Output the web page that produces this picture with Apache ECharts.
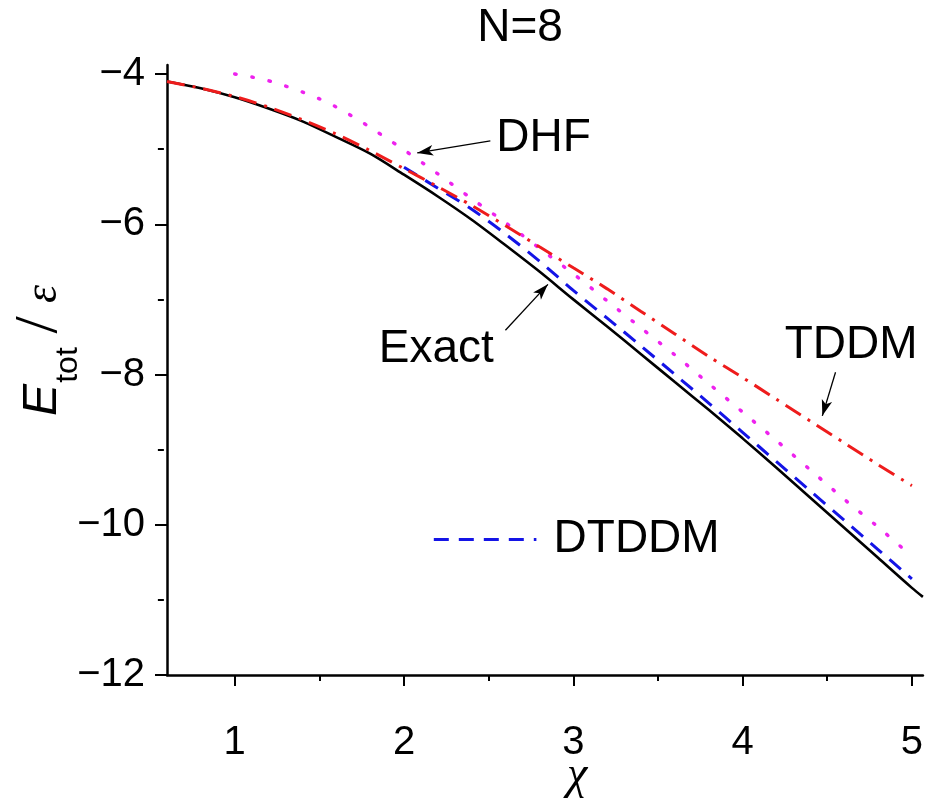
<!DOCTYPE html>
<html><head><meta charset="utf-8">
<script src="https://cdn.jsdelivr.net/npm/echarts@6/dist/echarts.min.js"></script>
<style>html,body{margin:0;padding:0;background:#fff}#c{width:926px;height:799px}</style>
</head><body><div id="c"></div>
<script>
// ---- data ----
const exactChi = [0.6,0.8,1.0,1.2,1.4,1.6,1.8,2.0,2.2,2.4,2.6,2.8,3.0,3.2,3.4,3.6,3.8,4.0,4.2,4.4,4.6,4.8,5.0,5.065];
const exactE   = [-4.10,-4.19,-4.31,-4.46,-4.63,-4.84,-5.06,-5.34,-5.63,-5.94,-6.28,-6.63,-7.00,-7.36,-7.73,-8.10,-8.47,-8.85,-9.24,-9.64,-10.04,-10.44,-10.84,-10.96];

const tddmChi = [0.6,0.8,1.0,1.2,1.4,1.6,1.8,2.0,2.2,2.4,2.6,2.8,3.0,3.2,3.4,3.6,3.8,4.0,4.2,4.4,4.6,4.8,5.0];
const tddmE   = [-4.10,-4.19,-4.30,-4.44,-4.61,-4.80,-5.02,-5.26,-5.50,-5.75,-6.02,-6.30,-6.58,-6.86,-7.16,-7.46,-7.76,-8.04,-8.33,-8.62,-8.91,-9.20,-9.48];

const dhfChi = [1.0,1.1,1.2,1.3,1.4,1.5,1.6,1.7,1.8,1.9,2.0,2.2,2.4,2.6,2.8,3.0,3.2,3.4,3.6,3.8,4.0,4.2,4.4,4.6,4.8,5.0];
const dhfE   = [-4.00,-4.04,-4.09,-4.16,-4.24,-4.33,-4.44,-4.57,-4.71,-4.86,-5.01,-5.33,-5.66,-5.98,-6.32,-6.66,-7.02,-7.38,-7.74,-8.12,-8.50,-8.88,-9.27,-9.66,-10.03,-10.42];

const dtddmChi = [2.0,2.2,2.4,2.6,2.8,3.0,3.2,3.4,3.6,3.8,4.0,4.2,4.4,4.6,4.8,5.0];
const dtddmE   = [-5.24,-5.52,-5.80,-6.13,-6.49,-6.88,-7.25,-7.62,-8.00,-8.38,-8.77,-9.16,-9.55,-9.94,-10.33,-10.72];

const xTicks = [1,2,3,4,5];
const xMinorTicks = [1.5,2.5,3.5,4.5];
const yTicks = [-12,-10,-8,-6,-4];
const yMinorTicks = [-11,-9,-7,-5];

// annotation labels (data coordinates)
const annoText = ['DHF','Exact','TDDM','DTDDM'];
const annoChi  = [2.824, 2.191, 4.641, 3.374];
const annoE    = [-4.86, -7.67, -7.61, -10.19];
// annotation arrows: from -> to (data coordinates)
const arrowFromChi = [2.51, 2.599, 4.549];
const arrowFromE   = [-4.89, -7.41, -7.97];
const arrowToChi   = [2.078, 2.85, 4.471];
const arrowToE     = [-5.05, -6.80, -8.55];
// legend sample segment for DTDDM
const sampleChi = [2.176, 2.782];
const sampleE   = [-10.19, -10.19];

const zip = (a, b) => a.map((v, i) => [v, b[i]]);
const minusFmt = v => String(v).replace('-', '\u2212');

const X_MIN = 0.6, X_MAX = 5.065, Y_MIN = -12, Y_MAX = -3.88;
const GRID = {left: 167, top: 65, width: 759, height: 610};

const chart = echarts.init(document.getElementById('c'));
const SANS = '"Liberation Sans", Arial, sans-serif';
const SERIF = '"Liberation Serif", "DejaVu Serif", serif';

const arrows = arrowFromChi.map((c, i) => [
  {coord: [c, arrowFromE[i]], symbol: 'none'},
  {coord: [arrowToChi[i], arrowToE[i]], symbol: 'arrow', symbolSize: [8, 16]}
]);
arrows.push([
  {coord: [sampleChi[0], sampleE[0]], symbol: 'none', lineStyle: {color: '#1414e6', width: 3, type: [15, 10]}},
  {coord: [sampleChi[1], sampleE[1]], symbol: 'none'}
]);

chart.setOption({
  animation: false,
  backgroundColor: '#fff',
  grid: GRID,
  xAxis: [{
    type: 'value', min: X_MIN, max: X_MAX, position: 'bottom',
    axisLine: {show: true, onZero: false, lineStyle: {color: '#000', width: 2.5}},
    axisTick: {show: true, inside: false, length: 11, customValues: xTicks, lineStyle: {color: '#000', width: 2}},
    axisLabel: {show: true, customValues: xTicks, margin: 48, fontSize: 40, color: '#000', fontFamily: SANS},
    splitLine: {show: false}
  }, {
    type: 'value', min: X_MIN, max: X_MAX, position: 'top', offset: -GRID.height,
    axisLine: {show: false},
    axisTick: {show: true, inside: true, length: 6, customValues: xMinorTicks, lineStyle: {color: '#000', width: 2}},
    axisLabel: {show: false}, splitLine: {show: false}
  }],
  yAxis: [{
    type: 'value', min: Y_MIN, max: Y_MAX, position: 'left',
    axisLine: {show: true, onZero: false, lineStyle: {color: '#000', width: 2.5}},
    axisTick: {show: true, inside: false, length: 12, customValues: yTicks, lineStyle: {color: '#000', width: 2}},
    axisLabel: {show: true, customValues: yTicks, margin: 22, fontSize: 40, color: '#000', fontFamily: SANS, formatter: minusFmt},
    splitLine: {show: false}
  }, {
    type: 'value', min: Y_MIN, max: Y_MAX, position: 'right', offset: -GRID.width,
    axisLine: {show: false},
    axisTick: {show: true, inside: true, length: 6, customValues: yMinorTicks, lineStyle: {color: '#000', width: 2}},
    axisLabel: {show: false}, splitLine: {show: false}
  }],
  series: [{
    name: 'Exact', type: 'line', data: zip(exactChi, exactE), showSymbol: false, smooth: 0.3,
    lineStyle: {color: '#000', width: 2.6}
  }, {
    name: 'DTDDM', type: 'line', data: zip(dtddmChi, dtddmE), showSymbol: false, smooth: 0.3,
    lineStyle: {color: '#1414e6', width: 3, type: [15, 10]}
  }, {
    name: 'DHF', type: 'line', data: zip(dhfChi, dhfE), showSymbol: false, smooth: 0.3,
    lineStyle: {color: '#ee22ee', width: 3.5, type: [1.5, 16], cap: 'round'}
  }, {
    name: 'TDDM', type: 'line', data: zip(tddmChi, tddmE), showSymbol: false, smooth: 0.3,
    lineStyle: {color: '#ee1c1c', width: 3, type: [18, 8, 3, 8]}
  }, {
    name: 'annotations', type: 'scatter', data: annoChi.map((c, i) => [c, annoE[i], annoText[i]]),
    symbolSize: 1, itemStyle: {color: 'rgba(0,0,0,0)', opacity: 1}, silent: true,
    label: {show: true, position: 'inside', formatter: p => p.data[2], fontSize: 46, color: '#000', opacity: 1, fontFamily: SANS, textBorderWidth: 0},
    markLine: {
      silent: true, animation: false, symbol: ['none', 'arrow'],
      label: {show: false},
      lineStyle: {color: '#000', width: 1.3, type: 'solid', opacity: 1},
      itemStyle: {opacity: 1},
      emphasis: {disabled: true},
      data: arrows
    }
  }],
  graphic: [{
    type: 'text', x: 520, y: 28,
    style: {text: 'N=8', font: '46px ' + SANS, fill: '#000', align: 'center', verticalAlign: 'middle'}
  }, {
    type: 'text', x: 577, y: 776,
    style: {text: '\u03C7', font: 'italic 46px ' + SERIF, fill: '#000', align: 'center', verticalAlign: 'middle'}
  }, {
    type: 'group', x: 60, y: 415, rotation: Math.PI / 2,
    children: [
      {type: 'text', x: 15, y: -17, style: {text: 'E', font: 'italic 48px ' + SANS, fill: '#000', align: 'center', verticalAlign: 'middle'}},
      {type: 'text', x: 50, y: 8, style: {text: 'tot', font: '32px ' + SANS, fill: '#000', align: 'center', verticalAlign: 'middle'}},
      {type: 'text', x: 90, y: -20, style: {text: '/', font: '62px ' + SERIF, fill: '#000', align: 'center', verticalAlign: 'middle'}},
      {type: 'text', x: 121, y: -16, style: {text: '\u03B5', font: 'italic 46px ' + SERIF, fill: '#000', align: 'center', verticalAlign: 'middle'}}
    ]
  }]
});
</script>
</body></html>
